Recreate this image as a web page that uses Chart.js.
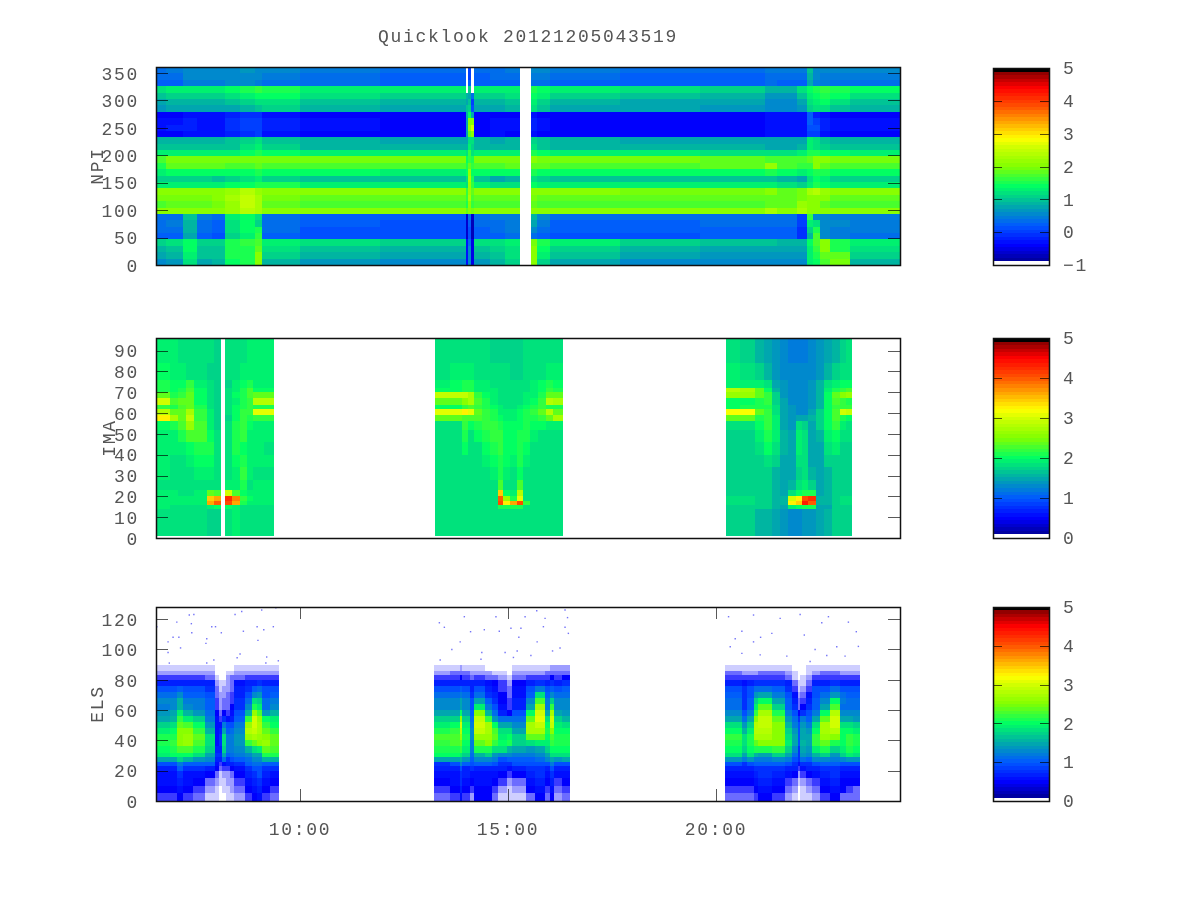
<!DOCTYPE html>
<html>
<head>
<meta charset="utf-8">
<title>Quicklook</title>
<script src="https://cdn.jsdelivr.net/npm/chart.js@4"></script>
<style>
  html, body { margin: 0; background: #fff; }
  canvas { position: absolute; }
</style>
</head>
<body>
<script>
const n = null; // no data (white)

const titleText = "Quicklook 20121205043519";
const tickHours = [10, 15, 20];
const tickLabels = ["10:00", "15:00", "20:00"];

// all values below are log10 counts x 10

// NPI: 31 rows top to bottom, 31 time columns
const npiTimes = [6.54,6.78,7.19,7.52,7.88,8.20,8.56,8.92,9.09,10.0,11.92,13.99,14.05,14.10,14.18,14.57,14.93,15.29,15.55,15.70,16.01,17.69,19.62,21.18,21.47,21.95,22.19,22.33,22.50,22.74,23.22,24.42];
const npiChannels = [361,349.4,337.7,326,314.4,302.7,291.1,279.4,267.8,256.1,244.5,232.9,221.2,209.6,197.9,186.3,174.6,163,151.3,139.7,128,116.4,104.8,93.1,81.5,69.8,58.2,46.5,34.9,23.2,11.6,0];
const npiRows = [
  [3,4,6,6,6,6,7,6,5,4,3,n,0,n,3,3,4,n,5,5,4,3,3,4,4,4,10,6,5,5,5],
  [3,3,5,5,5,5,6,6,4,3,2,n,0,n,2,3,3,n,4,4,3,2,2,3,3,3,9,5,4,4,4],
  [2,2,4,4,4,5,5,4,3,3,2,n,2,n,2,2,2,n,3,3,2,2,2,3,2,2,8,4,4,3,3],
  [12,13,13,13,13,14,15,16,15,13,13,n,11,n,13,13,13,n,15,14,13,12,11,9,9,12,14,15,16,15,14],
  [10,11,11,11,11,12,13,14,14,12,11,9,8,3,11,11,12,n,14,13,11,10,9,7,7,10,13,14,15,14,12],
  [8,9,9,9,9,10,11,12,12,10,9,8,10,0,9,9,10,n,13,11,9,8,8,6,6,8,12,13,14,12,10],
  [7,8,8,8,8,8,9,10,11,9,8,10,11,1,8,8,9,n,12,10,8,8,7,5,5,7,11,12,12,10,9],
  [-4,-4,-3,-3,-3,-2,-1,-1,-3,-4,-4,9,14,8,-4,-4,-4,n,-3,-4,-4,-4,-4,-3,-3,-3,2,-2,-3,-4,-4],
  [-3,-3,-2,-3,-3,-1,0,0,-2,-3,-4,8,20,20,-4,-3,-3,n,-2,-3,-4,-4,-4,-3,-3,-3,2,0,-2,-3,-3],
  [-3,-2,-2,-3,-3,-1,0,0,-2,-3,-4,8,22,26,-4,-3,-3,n,-2,-3,-4,-4,-4,-3,-3,-3,1,1,-2,-3,-3],
  [-4,-4,-3,-3,-3,-2,-1,0,-3,-4,-4,8,18,20,-4,-3,-4,n,-3,-4,-4,-4,-4,-3,-3,-3,0,0,-3,-4,-4],
  [9,9,9,9,9,10,11,12,10,9,8,8,12,12,9,8,9,n,11,10,9,8,8,8,8,8,13,12,10,9,9],
  [10,10,10,10,10,10,12,13,11,9,9,9,13,11,9,9,9,n,12,10,9,9,9,8,8,9,13,12,11,10,10],
  [13,13,13,13,13,13,14,15,14,13,13,12,16,12,13,13,13,n,15,14,13,13,12,12,12,13,15,15,14,14,13],
  [17,19,19,19,19,19,19,19,19,19,19,14,16,15,19,19,19,n,20,19,19,19,18,17,17,17,18,21,20,19,19],
  [15,18,18,18,18,17,17,18,17,17,17,15,18,16,17,17,18,n,18,18,17,17,18,22,17,16,16,21,18,17,17],
  [13,14,14,14,14,14,14,15,14,14,13,14,22,14,14,14,14,n,15,14,14,14,14,15,14,13,14,15,15,14,14],
  [11,11,11,11,10,11,12,13,11,10,10,12,23,15,10,8,9,n,12,11,10,10,10,10,9,8,12,14,13,11,11],
  [13,13,13,13,13,14,14,15,15,13,13,12,22,16,13,12,12,n,14,13,13,13,13,13,12,11,13,15,14,13,13],
  [20,20,20,20,20,22,24,22,20,20,20,16,22,18,20,20,20,n,21,20,20,19,19,21,18,19,23,24,22,20,20],
  [19,19,19,19,20,23,25,23,19,18,18,16,23,17,18,18,18,n,19,18,18,18,18,18,18,19,21,21,20,18,18],
  [17,18,18,18,19,22,25,23,18,17,17,15,20,16,17,17,17,n,18,17,17,17,17,18,18,22,21,20,18,17,17],
  [20,20,20,20,20,22,24,23,20,20,20,18,20,19,20,20,20,n,21,20,20,20,20,23,20,23,21,21,21,20,20],
  [3,3,10,4,3,13,14,12,3,2,2,-6,3,-6,3,4,4,n,9,5,3,3,3,3,3,0,16,6,5,4,4],
  [3,4,9,3,2,12,14,11,3,2,1,-6,2,-7,3,3,4,n,8,4,2,2,3,3,3,0,13,12,5,5,4],
  [3,3,9,3,2,12,14,15,3,1,1,-6,1,-7,2,3,4,n,6,3,2,2,2,2,2,-1,11,15,5,4,4],
  [2,2,8,2,1,11,13,16,2,1,1,-6,1,-7,2,2,3,n,3,2,1,1,2,2,2,-1,9,17,6,4,3],
  [11,12,14,11,11,15,16,17,13,12,11,-3,3,-5,12,12,13,n,19,15,13,11,10,10,9,9,14,17,20,15,13],
  [9,10,14,10,10,15,15,18,12,10,9,-3,5,-5,10,11,12,n,20,14,11,9,8,8,8,8,13,16,20,15,12],
  [8,9,13,10,10,15,15,20,11,9,8,-3,5,-5,9,10,12,n,20,13,10,8,7,7,7,7,13,15,18,18,11],
  [6,7,12,8,9,14,15,21,9,7,6,-3,5,-5,7,9,11,n,21,11,8,6,5,5,6,6,13,14,17,19,9]
];

// IMA: 20 rows top to bottom, three passes
const imaChannels = [96,84,76,72,70,67,64,62,59,56,52,46,40,34,28,23,20,18,16,14,1];
const imaTimesA = [6.54,6.88,7.07,7.26,7.45,7.76,7.93,8.10,8.20,8.37,8.56,8.73,8.87,9.13,9.38];
const imaRowsA = [
  [19,19,18,18,18,18,17,n,18,18,18,19,19,19],
  [20,19,19,18,18,17,17,n,18,18,19,19,19,19],
  [21,20,20,22,19,18,17,n,17,19,20,21,19,19],
  [21,20,21,23,20,18,17,n,18,19,21,23,20,20],
  [24,21,22,24,20,18,17,n,18,20,21,23,24,24],
  [30,23,24,24,20,18,17,n,18,19,21,22,28,28],
  [22,21,23,24,21,18,17,n,18,20,21,22,21,21],
  [28,24,24,27,22,19,17,n,18,20,22,22,31,31],
  [33,27,24,29,22,19,17,n,17,20,22,21,22,22],
  [20,21,23,26,23,19,17,n,18,21,22,20,19,19],
  [19,19,21,23,23,20,18,n,18,21,22,19,19,19],
  [19,19,19,20,21,21,18,n,18,21,20,19,19,18],
  [19,18,18,19,20,20,18,n,18,20,21,19,19,19],
  [19,18,18,18,19,19,18,n,18,19,22,19,18,18],
  [18,18,18,18,18,18,18,n,19,19,21,18,19,19],
  [19,19,18,18,19,24,23,n,30,23,20,19,19,19],
  [19,19,19,19,19,34,36,n,42,38,22,20,19,19],
  [19,19,19,19,19,36,40,n,41,36,21,19,19,19],
  [19,18,18,18,18,19,20,n,20,19,18,18,18,18],
  [18,18,18,18,18,17,17,n,18,19,18,18,18,18]
];
const imaTimesB = [13.25,13.61,13.89,14.04,14.18,14.38,14.57,14.76,14.88,15.05,15.22,15.36,15.53,15.72,15.91,16.08,16.32];
const imaRowsB = [
  [18,18,18,18,18,18,17,17,17,17,17,18,18,18,18,18],
  [18,19,19,19,18,18,18,18,18,17,17,18,18,18,19,19],
  [19,20,21,21,19,19,18,18,18,18,18,18,19,20,21,20],
  [20,20,21,21,19,19,19,18,18,18,18,18,19,20,22,21],
  [29,29,29,27,22,20,19,18,18,18,18,19,19,21,24,24],
  [24,24,25,27,23,21,19,18,18,18,18,19,20,22,28,27],
  [20,20,22,23,22,21,20,19,18,18,19,20,21,22,21,21],
  [31,31,33,31,24,22,21,19,19,19,20,21,22,24,28,24],
  [24,24,23,23,23,22,21,20,19,19,20,21,21,22,24,27],
  [18,18,22,20,21,22,22,21,20,20,20,21,20,20,19,19],
  [18,18,21,18,20,21,22,22,20,20,21,21,19,18,18,18],
  [18,18,20,18,18,20,21,22,20,20,21,20,18,18,18,18],
  [18,18,18,18,18,19,20,21,20,19,21,19,18,18,18,18],
  [18,18,18,18,18,18,19,21,19,18,20,18,18,18,18,18],
  [18,18,18,18,18,18,18,23,18,18,23,18,18,18,18,18],
  [18,18,18,18,18,18,18,34,20,19,28,18,18,18,18,18],
  [18,18,18,18,18,18,18,40,26,21,31,18,18,18,18,18],
  [18,18,18,18,18,18,18,41,33,36,41,22,18,18,18,18],
  [18,18,18,18,18,18,18,21,21,21,21,18,18,18,18,18],
  [18,18,18,18,18,18,18,18,18,18,18,18,18,18,18,18]
];
const imaTimesC = [20.24,20.58,20.94,21.15,21.35,21.54,21.73,21.92,22.07,22.21,22.40,22.60,22.79,22.98,23.13,23.27];
const imaRowsC = [
  [18,17,16,15,14,13,12,12,12,13,14,15,16,17,18],
  [19,18,17,16,14,13,13,13,13,13,14,16,17,18,18],
  [19,19,19,18,15,14,13,13,13,14,16,18,19,20,20],
  [28,27,24,20,16,14,13,13,13,14,16,19,21,22,23],
  [26,26,24,22,17,14,13,13,13,14,16,20,24,25,26],
  [20,20,21,22,17,15,13,13,13,14,16,20,23,22,21],
  [20,21,21,21,18,15,14,13,13,14,16,20,22,22,22],
  [32,32,24,22,18,15,14,13,13,15,17,20,23,30,29],
  [24,24,21,22,19,15,14,15,15,16,17,20,23,21,20],
  [18,18,20,22,19,15,14,18,17,15,17,20,22,19,18],
  [17,17,19,21,19,16,15,19,18,15,16,19,20,18,18],
  [17,17,18,20,18,16,15,19,18,15,15,18,19,17,17],
  [17,17,17,18,17,15,15,18,18,15,15,17,17,17,17],
  [17,17,17,17,16,15,15,17,18,16,15,16,17,17,17],
  [17,17,17,17,16,15,16,18,19,17,15,16,17,17,17],
  [17,17,17,17,16,15,18,20,21,21,15,16,17,17,17],
  [18,18,17,17,16,16,30,33,41,42,16,16,17,18,18],
  [18,18,17,17,16,16,33,34,43,40,16,16,17,18,18],
  [17,17,17,17,16,15,19,20,21,21,15,15,17,17,17],
  [17,17,16,16,15,14,13,13,14,14,15,16,17,17,17]
];

// ELS: one profile per time column, bottom to top
const elsChannels = [0,5,10,15,20,23,26,29,32,36,40,44,48,52,56,60,64,68,72,76,80,83,86,90];
const elsTimesA = [6.54,6.88,7.04,7.19,7.43,7.72,7.96,8.05,8.13,8.22,8.32,8.41,8.68,8.85,8.97,9.09,9.28,9.50];
const elsColsA = [
  [4,5,6,6,7,9,15,19,20,21,21,19,17,15,14,12,13,11,9,7,4,2,1],
  [4,5,6,6,7,9,15,20,21,22,21,20,18,16,15,13,13,11,9,7,4,2,1],
  [5,6,7,8,10,12,17,20,23,25,25,25,24,22,19,16,16,13,10,7,4,2,1],
  [4,5,6,6,8,10,16,20,23,26,26,25,23,19,16,13,12,10,9,7,4,2,1],
  [3,4,5,6,8,10,14,18,21,23,24,22,20,17,14,12,12,10,9,7,4,2,1],
  [1,2,3,5,7,10,13,15,17,18,18,16,14,12,11,10,10,9,8,7,3,2,1],
  [1,1,2,3,5,6,7,8,7,6,6,6,6,6,5,4,4,3,3,2,1,0,0],
  [0,0,1,1,3,4,7,8,7,8,8,7,6,4,3,2,2,2,1,1,0,0,0],
  [0,1,1,2,4,6,11,15,17,18,18,15,12,8,5,3,3,2,2,1,0,0,0],
  [1,1,2,2,4,7,8,10,12,12,12,10,9,6,4,3,3,3,2,2,2,1,0],
  [1,2,2,3,5,7,9,11,12,12,12,11,9,7,6,5,4,4,3,3,3,1,0],
  [2,3,4,5,6,8,10,12,13,14,14,13,12,10,9,8,8,7,7,6,3,2,1],
  [4,5,6,7,8,10,11,13,16,22,26,28,26,22,16,13,11,9,8,7,4,2,1],
  [5,6,7,8,9,11,13,15,18,24,27,29,30,30,26,21,18,13,10,7,4,2,1],
  [6,7,8,9,9,11,13,15,19,25,26,27,27,26,23,19,17,14,11,8,4,2,1],
  [4,5,6,7,8,10,16,21,24,26,25,24,22,20,14,11,11,9,9,7,4,2,1],
  [3,4,5,6,8,10,16,21,23,24,24,22,20,19,16,13,12,10,9,7,4,2,1]
];
const elsTimesB = [13.22,13.61,13.85,13.89,14.09,14.18,14.45,14.62,14.76,14.98,15.10,15.43,15.65,15.89,16.01,16.11,16.30,16.49];
const elsColsB = [
  [3,4,5,6,7,8,15,20,21,22,23,21,19,17,15,13,13,11,9,7,4,2,1],
  [4,5,6,6,7,9,15,20,21,23,23,22,20,17,15,13,13,11,9,7,4,3,1],
  [6,7,8,8,9,13,16,19,22,24,26,28,30,26,20,15,15,12,10,7,5,3,2],
  [4,5,6,7,7,10,14,17,19,20,21,20,19,17,15,13,13,11,9,7,4,3,1],
  [2,4,5,6,8,9,10,11,12,12,13,13,12,11,10,9,9,8,7,7,3,2,1],
  [5,5,6,6,7,10,13,16,21,24,26,29,30,29,25,19,15,11,9,7,4,2,1],
  [5,5,6,6,7,10,13,17,21,25,26,27,27,22,16,12,10,8,7,6,3,2,0],
  [3,4,5,6,7,9,12,14,18,22,24,23,20,14,11,9,8,7,6,5,3,1,0],
  [1,2,4,5,7,8,9,13,18,20,19,18,15,11,7,6,5,5,4,4,2,1,0],
  [1,1,2,4,6,8,10,13,16,21,20,18,15,11,5,4,4,3,3,2,1,0,0],
  [1,2,3,5,7,9,10,12,15,17,17,15,13,11,9,7,7,6,6,5,3,2,1],
  [3,5,6,7,8,9,10,12,14,18,24,27,27,24,20,15,13,10,9,7,4,2,1],
  [5,6,7,8,8,9,11,13,15,19,24,27,29,31,30,27,23,18,12,8,4,2,1],
  [3,4,5,6,7,9,13,15,17,19,20,21,20,18,15,12,12,10,9,7,4,3,1],
  [5,6,7,8,9,12,15,18,20,22,23,25,29,30,27,22,17,13,10,8,5,3,2],
  [2,3,4,6,7,9,14,18,20,21,21,20,19,17,15,13,13,11,9,7,4,3,2],
  [3,4,5,6,7,9,15,18,20,21,21,20,18,16,14,13,13,11,10,8,5,3,2]
];
const elsTimesC = [20.22,20.63,20.75,20.91,21.01,21.35,21.66,21.83,21.97,22.02,22.16,22.31,22.50,22.74,22.98,23.13,23.29,23.46];
const elsColsC = [
  [3,4,5,6,7,9,14,18,20,21,22,20,18,15,13,11,11,10,9,7,4,3,1],
  [3,4,5,6,7,8,12,15,17,18,18,16,14,11,9,8,8,8,8,6,4,2,1],
  [3,4,5,6,7,9,14,18,20,21,21,19,17,15,12,10,10,9,9,7,4,2,1],
  [4,5,6,7,8,10,12,16,21,24,27,28,28,25,22,19,17,14,11,8,4,2,1],
  [5,6,7,8,8,10,12,15,21,25,27,28,29,29,27,24,20,15,11,8,4,3,1],
  [4,5,6,7,8,10,13,17,22,25,25,25,25,24,21,17,15,12,10,8,4,3,1],
  [2,3,4,6,7,9,12,15,17,19,18,17,16,14,12,10,10,9,8,7,3,2,1],
  [1,2,3,5,7,8,9,11,13,15,15,14,12,11,9,8,7,6,4,3,1,1,0],
  [0,0,1,2,4,6,8,8,8,9,9,9,9,8,5,3,3,2,1,1,0,0,0],
  [1,1,2,4,6,8,11,14,15,16,15,15,14,12,8,5,4,3,2,1,1,0,0],
  [1,2,3,5,7,8,10,13,14,15,15,14,12,10,9,8,7,6,4,3,2,1,1],
  [2,3,4,6,7,9,13,16,19,22,22,20,18,15,12,10,10,9,9,7,4,2,1],
  [4,5,6,7,8,10,13,17,21,24,26,27,27,24,20,15,13,11,9,7,4,3,1],
  [5,6,7,8,8,10,12,14,17,21,25,28,30,30,28,23,20,14,11,8,4,3,1],
  [3,5,5,6,7,9,13,17,19,20,20,20,18,15,13,11,12,11,9,7,4,2,1],
  [3,4,5,6,7,9,14,19,21,22,22,20,18,15,13,11,11,10,9,7,4,2,1],
  [3,3,5,6,7,9,14,18,20,21,21,19,17,14,13,11,11,10,9,7,4,2,1]
];

// single counts above the ELS belt
const elsDotTimes = [7.34,7.45,7.04,7.39,7.88,7.97,6.56,7.09,7.40,8.11,6.95,7.76,6.83,7.74,7.13,8.64,8.60,8.44,9.13,8.97,9.36,8.99,8.56,8.49,9.2,9.18,9.48,6.86,7.93,7.76,6.83,9.08,9.42,
  13.35,13.47,13.95,14.10,14.43,14.79,14.71,15.07,15.31,15.41,15.26,15.70,15.85,15.89,15.69,16.37,16.43,16.37,16.45,13.85,13.65,14.37,14.93,15.22,15.55,16.07,16.25,13.37,14.35,15.13,
  20.30,20.9,20.62,20.46,20.9,21.07,21.34,21.54,22.02,22.54,22.7,23.18,23.37,22.12,22.38,22.9,22.66,22.26,21.7,21.06,20.34,20.62,23.1,23.42];
const elsDotChannels = [122.7,123,118,117,115,115,115,108,111,111,108,107,105,104,101,112,125,123,113,115,115,106,97,94.5,95,91,92.5,91,93,91,98,126,127.5,
  117.6,114.6,121.6,111.7,113,112,121.6,114,114,121.6,108,105,115,120.5,125.5,126,121,114.6,110.6,105,100,98,98,99,96,99,101,93,93.5,94.7,
  121.6,122.7,112,107,105,108,110.6,120.5,123,117.6,121.6,118,111.7,109.5,100,101.8,96,92,95.6,96.4,101.8,97.4,95.6,102];

const NLEVELS = 56; // steps in the colour bar
const colorStops = [
  [0, 0, 0, 128], [0.1, 0, 0, 255], [0.2, 0, 90, 255], [0.3, 0, 170, 170], [0.4, 0, 255, 100],
  [0.5, 130, 255, 0], [0.6, 210, 255, 0], [0.64, 255, 255, 0], [0.72, 255, 170, 0],
  [0.8, 255, 85, 0], [0.9, 255, 0, 0], [0.985, 128, 0, 0], [1, 128, 0, 0]
];

function paletteColor(f) {
  const step = Math.max(0, Math.min(NLEVELS - 1, Math.floor(f * NLEVELS)));
  if (step === 0) return "#fff";
  if (step === NLEVELS - 1) return "#000";
  const g = (step + 0.5) / NLEVELS;
  let i = 0;
  while (i < colorStops.length - 2 && colorStops[i + 1][0] < g) i++;
  const a = colorStops[i], b = colorStops[i + 1];
  const t = (g - a[0]) / (b[0] - a[0]);
  const mix = k => Math.round(a[k] + (b[k] - a[k]) * t);
  return `rgb(${mix(1)},${mix(2)},${mix(3)})`;
}

// turn time edges, channel edges and a value grid into scatter points with a cell box
function rowCells(times, channels, rows) {
  const cells = [];
  rows.forEach((row, r) => row.forEach((v, c) => {
    if (v === null) return;
    cells.push({ x: times[c], x2: times[c + 1], y: channels[r], y2: channels[r + 1], v: v / 10 });
  }));
  return cells;
}
function colCells(times, channels, cols) {
  const cells = [];
  cols.forEach((col, c) => col.forEach((v, r) => {
    if (v === 0) return;
    cells.push({ x: times[c], x2: times[c + 1], y: channels[r + 1], y2: channels[r], v: v / 10 });
  }));
  return cells;
}

const cellPlugin = {
  id: "cells",
  beforeDatasetsDraw(chart) {
    const { ctx, chartArea, scales } = chart;
    ctx.save();
    ctx.beginPath();
    ctx.rect(chartArea.left, chartArea.top, chartArea.width, chartArea.height);
    ctx.clip();
    chart.data.datasets.forEach(ds => {
      if (!ds.cellRange) return;
      const [lo, hi] = ds.cellRange;
      ds.data.forEach(p => {
        const x1 = Math.round(scales.x.getPixelForValue(p.x));
        const x2 = Math.round(scales.x.getPixelForValue(p.x2));
        const y1 = Math.round(scales.y.getPixelForValue(p.y));
        const y2 = Math.round(scales.y.getPixelForValue(p.y2));
        if (ds.sparseBelow && p.v < ds.sparseBelow) {
          // sparse counts: blue speckle seen from afar
          ctx.fillStyle = `rgba(10,10,255,${p.v / ds.sparseBelow})`;
        } else {
          ctx.fillStyle = paletteColor((p.v - lo) / (hi - lo));
        }
        ctx.fillRect(x1, y1, x2 - x1, y2 - y1);
      });
    });
    ctx.restore();
  }
};

const framePlugin = {
  id: "frame",
  afterDatasetsDraw(chart, args, opts) {
    const { ctx, chartArea: a, scales } = chart;
    ctx.save();
    ctx.lineWidth = 1;
    ctx.strokeStyle = "rgba(0,0,0,0.65)";
    ctx.beginPath();
    scales.y.ticks.forEach(t => {
      const y = Math.round(scales.y.getPixelForValue(t.value)) + 0.5;
      ctx.moveTo(a.left, y); ctx.lineTo(a.left + opts.tickLen, y);
      ctx.moveTo(a.right - opts.tickLen, y); ctx.lineTo(a.right, y);
    });
    if (opts.timeTicks) {
      tickHours.forEach(h => {
        const x = Math.round(scales.x.getPixelForValue(h)) + 0.5;
        ctx.moveTo(x, a.top); ctx.lineTo(x, a.top + opts.tickLen);
        ctx.moveTo(x, a.bottom - opts.tickLen); ctx.lineTo(x, a.bottom);
      });
    }
    ctx.stroke();
    ctx.lineWidth = 1.5;
    ctx.strokeStyle = "#111";
    ctx.strokeRect(a.left + 0.5, a.top + 0.5, a.width, a.height);
    ctx.restore();
  }
};

const spacingPlugin = {
  id: "spacing",
  beforeLayout(chart) { chart.ctx.letterSpacing = "1.7px"; },
  beforeDraw(chart) { chart.ctx.letterSpacing = "1.7px"; }
};

const monoFont = { family: "'Liberation Mono', monospace", size: 18 };
const inkColor = "#555";

function addCanvas(left, top, w, h) {
  const c = document.createElement("canvas");
  c.width = w; c.height = h;
  c.style.left = left + "px";
  c.style.top = top + "px";
  c.style.width = w + "px";
  c.style.height = h + "px";
  document.body.appendChild(c);
  return c;
}

function drawPanel(cfg) {
  const canvas = addCanvas(0, cfg.top, 1200, cfg.height);
  const bottomAxis = cfg.timeAxis ? 60 : 0;
  const paddingTop = cfg.title ? 0 : cfg.plotTop - cfg.top;
  new Chart(canvas, {
    type: "scatter",
    data: { datasets: cfg.datasets },
    options: {
      responsive: false,
      animation: false,
      events: [],
      layout: { padding: { left: 0, right: 300, top: paddingTop, bottom: cfg.top + cfg.height - cfg.plotBottom - bottomAxis } },
      plugins: {
        legend: { display: false },
        tooltip: { enabled: false },
        title: {
          display: !!cfg.title,
          text: cfg.title,
          fullSize: false,
          color: inkColor,
          font: { ...monoFont, weight: "normal" },
          padding: { top: 26, bottom: 19.4 }
        },
        frame: { tickLen: 12, timeTicks: cfg.timeAxis }
      },
      scales: {
        x: {
          type: "linear",
          min: 6.54,
          max: 24.42,
          display: cfg.timeAxis,
          grid: { display: false, drawTicks: false },
          border: { display: false },
          afterFit: s => { s.height = bottomAxis; },
          afterBuildTicks: s => { s.ticks = tickHours.map(h => ({ value: h })); },
          ticks: {
            color: inkColor,
            font: monoFont,
            maxRotation: 0,
            autoSkip: false,
            padding: 18,
            callback: v => tickLabels[tickHours.indexOf(v)]
          }
        },
        y: {
          type: "linear",
          min: cfg.yMin,
          max: cfg.yMax,
          grid: { display: false, drawTicks: false },
          border: { display: false },
          afterFit: s => { s.width = 156; },
          ticks: { stepSize: cfg.yStep, includeBounds: false, autoSkip: false, color: inkColor, font: monoFont, padding: 17, labelOffset: 2 },
          title: { display: true, text: cfg.yTitle, color: inkColor, font: monoFont, padding: { top: cfg.yTitleX - 11, bottom: 0 } }
        }
      }
    },
    plugins: [spacingPlugin, cellPlugin, framePlugin]
  });
}

function drawColorBar(top, height, plotTop, plotBottom, lo, hi) {
  const canvas = addCanvas(960, top, 160, height);
  const stepSize = (hi - lo) / NLEVELS;
  const cells = [];
  for (let i = 0; i < NLEVELS; i++) {
    cells.push({ x: 0, x2: 1, y: lo + (i + 1) * stepSize, y2: lo + i * stepSize, v: lo + (i + 0.5) * stepSize });
  }
  new Chart(canvas, {
    type: "scatter",
    data: { datasets: [{ data: cells, pointRadius: 0, cellRange: [lo, hi] }] },
    options: {
      responsive: false,
      animation: false,
      events: [],
      layout: { padding: { left: 33, right: 0, top: plotTop - top, bottom: top + height - plotBottom } },
      plugins: { legend: { display: false }, tooltip: { enabled: false }, frame: { tickLen: 9, timeTicks: false } },
      scales: {
        x: { type: "linear", min: 0, max: 1, display: false },
        y: {
          type: "linear",
          position: "right",
          min: lo,
          max: hi,
          grid: { display: false, drawTicks: false },
          border: { display: false },
          afterFit: s => { s.width = 71; },
          ticks: {
            stepSize: 1,
            includeBounds: false,
            color: inkColor,
            font: monoFont,
            padding: 14,
            labelOffset: 1.5,
            callback: v => String(v).replace("-", "\u2212")
          }
        }
      }
    },
    plugins: [spacingPlugin, cellPlugin, framePlugin]
  });
}

drawPanel({
  top: 0, height: 300, plotTop: 68, plotBottom: 265, title: titleText,
  yMin: 0, yMax: 361, yStep: 50, yTitle: "NPI", yTitleX: 98, timeAxis: false,
  datasets: [{ data: rowCells(npiTimes, npiChannels, npiRows), pointRadius: 0, cellRange: [-1, 5] }]
});

const imaCells = [
  ...rowCells(imaTimesA, imaChannels, imaRowsA),
  ...rowCells(imaTimesB, imaChannels, imaRowsB),
  ...rowCells(imaTimesC, imaChannels, imaRowsC)
];
drawPanel({
  top: 300, height: 270, plotTop: 338, plotBottom: 538,
  yMin: 0, yMax: 96, yStep: 10, yTitle: "IMA", yTitleX: 110, timeAxis: false,
  datasets: [{ data: imaCells, pointRadius: 0, cellRange: [0, 5] }]
});

const elsCells = [
  ...colCells(elsTimesA, elsChannels, elsColsA),
  ...colCells(elsTimesB, elsChannels, elsColsB),
  ...colCells(elsTimesC, elsChannels, elsColsC)
];
drawPanel({
  top: 570, height: 300, plotTop: 607, plotBottom: 801,
  yMin: 0, yMax: 128, yStep: 20, yTitle: "ELS", yTitleX: 98, timeAxis: true,
  datasets: [
    { data: elsCells, pointRadius: 0, cellRange: [0, 5], sparseBelow: 0.5 },
    {
      data: elsDotTimes.map((t, i) => ({ x: t, y: elsDotChannels[i] })),
      pointStyle: "rect",
      pointRadius: 1,
      borderWidth: 0,
      backgroundColor: "rgba(70,70,245,0.75)"
    }
  ]
});

drawColorBar(0, 300, 68, 265, -1, 5);
drawColorBar(300, 270, 338, 538, 0, 5);
drawColorBar(570, 300, 607, 801, 0, 5);
</script>
</body>
</html>
